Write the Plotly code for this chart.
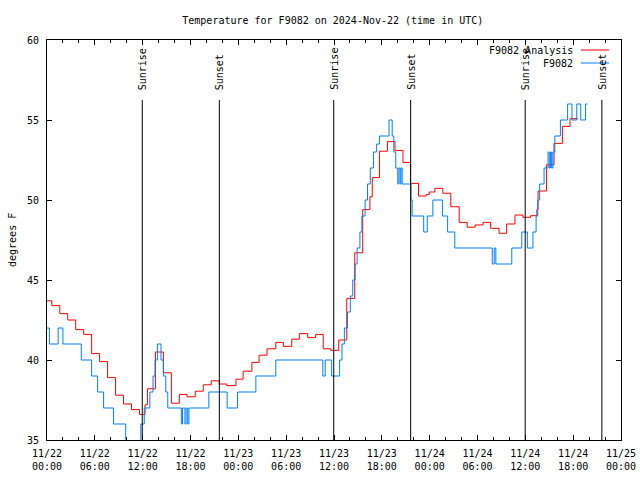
import pandas as pd
import plotly.graph_objects as go

START = pd.Timestamp("2024-11-22 00:00")

# Analysis (red): change-point hours since 11/22 00:00 UTC, and values (deg F)
analysis_hours = [0.0, 0.6, 1.6, 2.6, 3.6, 4.6, 5.6, 6.6, 7.6, 8.6, 9.6, 10.6, 11.6, 12.3, 12.6,
                  13.6, 14.6, 15.6, 16.6, 17.55, 18.6, 19.6, 20.6, 21.6, 22.55, 23.7, 24.6, 25.7,
                  26.6, 27.6, 28.7, 29.65, 30.7, 31.65, 32.7, 33.7, 34.65, 35.6, 36.6, 37.6, 38.6,
                  39.6, 40.5, 40.8, 41.7, 42.7, 43.65, 44.65, 45.6, 46.6, 47.55, 47.95, 48.65,
                  49.65, 50.65, 51.7, 52.7, 53.7, 54.7, 55.65, 56.7, 57.65, 58.7, 59.7, 60.65,
                  61.45, 61.6, 62.65, 63.6, 64.65, 65.6, 66.6]
analysis_vals = [43.7, 43.4, 42.9, 42.5, 41.9, 41.6, 40.4, 39.9, 38.9, 37.8, 37.25, 36.9, 36.6, 37.2, 38.2,
                 40.5, 39.2, 37.3, 37.85, 37.7, 38.05, 38.45, 38.7, 38.5, 38.4, 38.8, 39.3, 39.85,
                 40.3, 40.7, 41.1, 40.85, 41.3, 41.65, 41.4, 41.6, 40.7, 40.6, 41.25, 43.85, 46.7,
                 49.4, 50.2, 51.4, 53.05, 53.65, 53.1, 52.35, 51.04, 50.25, 50.35, 50.5, 50.73,
                 50.42, 49.58, 48.6, 48.3, 48.44, 48.6, 48.23, 47.92, 48.5, 49.06, 48.92, 49.02,
                 49.4, 50.56, 52.2, 53.54, 54.6, 55.08, 55.08]

# Observed F9082 (blue)
obs_hours = [0.0, 0.3, 1.4, 2.0, 4.3, 5.6, 6.35, 7.1, 8.35, 9.87, 11.77, 12.2, 12.9, 13.3, 13.55,
             13.85, 14.3, 14.6, 14.9, 15.15, 16.85, 17.0, 17.3, 17.45, 17.65, 17.8, 20.3, 22.6,
             23.9, 26.2, 28.7, 34.6, 34.9, 35.7, 36.7, 37.0, 37.3, 37.7, 38.05, 38.35, 38.65,
             38.9, 39.25, 39.5, 39.9, 40.2, 40.55, 40.95, 41.35, 41.7, 42.9, 43.3, 43.5, 43.75,
             44.0, 44.15, 44.3, 44.4, 44.55, 45.66, 45.8, 47.25, 47.7, 48.4, 49.6, 50.25, 51.15,
             55.85, 56.1, 56.3, 58.3, 59.55, 60.25, 60.95, 61.35, 61.55, 61.8, 62.35, 62.85,
             63.0, 63.15, 63.3, 63.45, 63.7, 64.4, 65.3, 65.85, 66.45, 66.95, 67.55, 67.8]
obs_vals = [42, 41, 42, 41, 40, 39, 38, 37, 36, 34, 36, 37, 38, 39, 40,
            41, 40, 39, 38, 37, 36, 37, 36, 37, 36, 37, 38, 37,
            38, 39, 40, 39, 40, 39, 40, 41, 42, 43, 44, 45, 46,
            47, 48, 49, 50, 51, 52, 53, 53.5, 54, 55, 54, 53, 52,
            51, 52, 51, 52, 51, 50, 49, 48, 49, 50, 49, 48, 47,
            46, 47, 46, 47, 48, 47, 48, 49, 50, 51, 52, 53,
            52, 53, 52, 53, 54, 55, 56, 55, 56, 55, 56, 56]

sun_times = ["2024-11-22 11:57", "2024-11-22 21:37", "2024-11-23 11:58",
             "2024-11-23 21:37", "2024-11-24 11:59", "2024-11-24 21:36"]
sun_labels = ["Sunrise", "Sunset", "Sunrise", "Sunset", "Sunrise", "Sunset"]

series_names = ["F9082 Analysis", "F9082"]
series_colors = ["#ff0000", "#0080ff"]

FONT = "DejaVu Sans Mono"

def to_time(hours):
    return [START + pd.Timedelta(hours=h) for h in hours]

fig = go.Figure()
fig.add_trace(go.Scatter(x=to_time(analysis_hours), y=analysis_vals, mode="lines",
                         line=dict(color=series_colors[0], width=1, shape="hv"),
                         name=series_names[0], showlegend=False))
fig.add_trace(go.Scatter(x=to_time(obs_hours), y=obs_vals, mode="lines",
                         line=dict(color=series_colors[1], width=1, shape="hv"),
                         name=series_names[1], showlegend=False))

shapes = []
annotations = []
for t, lab in zip(sun_times, sun_labels):
    shapes.append(dict(type="line", xref="x", yref="paper", x0=t, x1=t, y0=0, y1=0.85,
                       line=dict(color="black", width=1)))
    annotations.append(dict(x=t, xref="x", y=0.87, yref="paper", text=lab, textangle=-90,
                            showarrow=False, xanchor="center", yanchor="bottom",
                            font=dict(family=FONT, size=10, color="black")))

# legend (text right-aligned, sample line to the right)
leg_rows = [0.975, 0.9425]
for name, col, yy in zip(series_names, series_colors, leg_rows):
    annotations.append(dict(x=0.92, xref="paper", y=yy, yref="paper", text=name,
                            showarrow=False, xanchor="right", yanchor="middle",
                            font=dict(family=FONT, size=10, color="black")))
    shapes.append(dict(type="line", xref="paper", yref="paper", x0=0.9303, x1=0.9791,
                       y0=yy, y1=yy, line=dict(color=col, width=1)))

annotations.append(dict(x=-0.061, xref="paper", y=0.5, yref="paper", text="degrees F",
                        textangle=-90, showarrow=False, xanchor="center", yanchor="middle",
                        font=dict(family=FONT, size=10, color="black")))

fig.update_layout(
    width=640, height=480,
    margin=dict(l=47, r=19, t=40, b=40, autoexpand=False),
    paper_bgcolor="white", plot_bgcolor="white",
    font=dict(family=FONT, size=10, color="black"),
    title=dict(text="Temperature for F9082 on 2024-Nov-22 (time in UTC)", x=0.52, xanchor="center",
               y=0.958, yanchor="middle", font=dict(family=FONT, size=10, color="black")),
    shapes=shapes, annotations=annotations, showlegend=False,
)
fig.update_xaxes(type="date", range=["2024-11-22 00:00", "2024-11-25 00:00"],
                 tick0="2024-11-22 00:00", dtick=6 * 3600 * 1000, automargin=False,
                 tickformat="%m/%d<br>%H:%M", ticks="inside", ticklen=5, tickcolor="black",
                 ticklabelstandoff=4,
                 showline=True, linecolor="black", linewidth=1, mirror="ticks",
                 showgrid=False, zeroline=False,
                 minor=dict(dtick=2 * 3600 * 1000, ticks="inside", ticklen=3, tickcolor="black",
                            showgrid=False),
                 tickfont=dict(family=FONT, size=10, color="black"))
fig.update_yaxes(range=[35, 60], dtick=5, ticks="inside", ticklen=5, tickcolor="black",
                 automargin=False, ticklabelstandoff=5,
                 showline=True, linecolor="black", linewidth=1, mirror="ticks",
                 showgrid=False, zeroline=False,
                 tickfont=dict(family=FONT, size=10, color="black"))

fig.write_html("out.html", config={"displayModeBar": False},
               post_script="document.body.style.margin='0';document.body.style.padding='0';"
                           "document.body.style.overflow='hidden';")
